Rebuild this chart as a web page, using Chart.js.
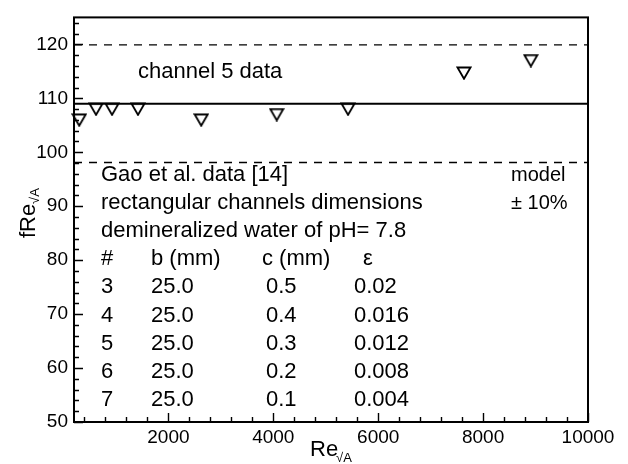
<!DOCTYPE html>
<html><head><meta charset="utf-8">
<script src="https://cdn.jsdelivr.net/npm/chart.js@4"></script>
<style>html,body{margin:0;padding:0;background:#fff}#wrap{width:628px;height:464px;position:relative}</style>
</head><body><div id="wrap"><canvas id="c"></canvas></div>
<script>
// ---- data ----
const reynolds = [300, 620, 925, 1420, 2625, 4065, 5425, 7635, 8910];
const fRe = [106, 108, 108, 108, 106, 107, 108, 114.7, 117];
const modelX = [200, 10000];
const modelY = [109, 109];
const upperY = [119.9, 119.9];
const lowerY = [98.1, 98.1];
const xTicks = [2000, 4000, 6000, 8000, 10000];
const yTicks = [50, 60, 70, 80, 90, 100, 110, 120];
const xMinorTicks = [400, 800, 1200, 1600, 2400, 2800, 3200, 3600, 4400, 4800, 5200, 5600, 6400, 6800, 7200, 7600, 8400, 8800, 9200, 9600];
const yMinorTicks = [52, 54, 56, 58, 62, 64, 66, 68, 72, 74, 76, 78, 82, 84, 86, 88, 92, 94, 96, 98, 102, 104, 106, 108, 112, 114, 116, 118, 122, 124];
const headerLines = ['Gao et al. data [14]', 'rectangular channels dimensions', 'demineralized water of pH= 7.8'];
const tableHeader = ['#', 'b (mm)', 'c (mm)', 'ε'];
const channelIds = ['3', '4', '5', '6', '7'];
const widthB = ['25.0', '25.0', '25.0', '25.0', '25.0'];
const depthC = ['0.5', '0.4', '0.3', '0.2', '0.1'];
const roughness = ['0.02', '0.016', '0.012', '0.008', '0.004'];
const legendLines = ['model', '\u00B1 10%'];
const channelLabel = 'channel 5 data';

const FONT = '"Liberation Sans", Arial, Helvetica, sans-serif';

// downward triangle marker
function makeTriangle() {
  const c = document.createElement('canvas');
  c.width = 16; c.height = 14;
  const g = c.getContext('2d');
  g.strokeStyle = '#000';
  g.lineWidth = 1.8;
  g.beginPath();
  g.moveTo(1.5, 1.5); g.lineTo(14.5, 1.5); g.lineTo(8, 12.8); g.closePath();
  g.stroke();
  return c;
}
const tri = makeTriangle();

const frameTicks = {
  id: 'frameTicks',
  afterDatasetsDraw(chart) {
    const {ctx, chartArea: a, scales: {x, y}} = chart;
    ctx.save();
    ctx.strokeStyle = '#000';
    ctx.lineWidth = 1.4;
    ctx.beginPath();
    xTicks.forEach(v => { const p = Math.round(x.getPixelForValue(v)) + 0.5; ctx.moveTo(p, a.bottom); ctx.lineTo(p, a.bottom - 9); });
    xMinorTicks.forEach(v => { const p = Math.round(x.getPixelForValue(v)) + 0.5; ctx.moveTo(p, a.bottom); ctx.lineTo(p, a.bottom - 5); });
    yTicks.forEach(v => { const p = Math.round(y.getPixelForValue(v)) + 0.5; ctx.moveTo(a.left, p); ctx.lineTo(a.left + 9, p); });
    yMinorTicks.forEach(v => { const p = Math.round(y.getPixelForValue(v)) + 0.5; ctx.moveTo(a.left, p); ctx.lineTo(a.left + 5, p); });
    ctx.stroke();
    ctx.lineWidth = 2;
    ctx.strokeRect(a.left, a.top, a.right - a.left, a.bottom - a.top);
    ctx.restore();
  }
};

const texts = {
  id: 'texts',
  afterDraw(chart) {
    const {ctx} = chart;
    ctx.save();
    ctx.fillStyle = '#000';
    ctx.textBaseline = 'alphabetic';
    ctx.textAlign = 'left';
    ctx.font = '22px ' + FONT;
    ctx.fillText(channelLabel, 138, 78);
    const base0 = 181, pitch = 28.1;
    headerLines.forEach((t, i) => ctx.fillText(t, 101, base0 + i * pitch));
    const cols = [101, 151, 262, 363];
    const r = base0 + 3 * pitch;
    tableHeader.forEach((t, i) => ctx.fillText(t, cols[i], r));
    const vcols = [101, 151, 266, 354];
    channelIds.forEach((id, i) => {
      const b = base0 + (4 + i) * pitch;
      ctx.fillText(id, vcols[0], b);
      ctx.fillText(widthB[i], vcols[1], b);
      ctx.fillText(depthC[i], vcols[2], b);
      ctx.fillText(roughness[i], vcols[3], b);
    });
    ctx.font = '20px ' + FONT;
    legendLines.forEach((t, i) => ctx.fillText(t, 511, base0 + i * pitch));
    // x title
    ctx.font = '22px ' + FONT;
    ctx.fillText('Re', 310, 456);
    ctx.font = '13px ' + FONT;
    ctx.fillText('\u221AA', 336, 462);
    // y title
    ctx.save();
    ctx.translate(35, 238);
    ctx.rotate(-Math.PI / 2);
    ctx.font = '22px ' + FONT;
    ctx.fillText('fRe', 0, 0);
    ctx.font = '13px ' + FONT;
    ctx.fillText('\u221AA', 34, 4);
    ctx.restore();
    ctx.restore();
  }
};

const toPts = (xs, ys) => xs.map((v, i) => ({x: v, y: ys[i]}));

new Chart(document.getElementById('c'), {
  type: 'scatter',
  data: {
    datasets: [
      {data: toPts(modelX, modelY), showLine: true, borderColor: '#000', borderWidth: 2, pointRadius: 0, order: 3},
      {data: toPts(modelX, upperY), showLine: true, borderColor: '#000', borderWidth: 1.3, borderDash: [8, 7], pointRadius: 0, order: 3},
      {data: toPts(modelX, lowerY), showLine: true, borderColor: '#000', borderWidth: 1.3, borderDash: [8, 7], pointRadius: 0, order: 3},
      {data: toPts(reynolds, fRe), showLine: false, pointStyle: tri, pointRadius: 7, clip: false, order: 1}
    ]
  },
  options: {
    responsive: true,
    maintainAspectRatio: false,
    animation: false,
    devicePixelRatio: 1,
    layout: {padding: {left: 0, right: 40, top: 6, bottom: 0}},
    plugins: {legend: {display: false}, tooltip: {enabled: false}},
    scales: {
      x: {
        type: 'linear', min: 200, max: 10000,
        afterBuildTicks: s => { s.ticks = xTicks.map(v => ({value: v})); },
        afterFit: s => { s.height = 42; },
        grid: {display: false, drawTicks: false},
        border: {display: false},
        ticks: {color: '#000', font: {family: FONT, size: 19}, padding: 4, maxRotation: 0, autoSkip: false, callback: v => String(v)}
      },
      y: {
        type: 'linear', min: 50, max: 125,
        afterBuildTicks: s => { s.ticks = yTicks.map(v => ({value: v})); },
        afterFit: s => { s.width = 74; },
        grid: {display: false, drawTicks: false},
        border: {display: false},
        ticks: {color: '#000', font: {family: FONT, size: 19}, padding: 6, autoSkip: false, callback: v => String(v)}
      }
    }
  },
  plugins: [frameTicks, texts]
});
</script></body></html>
